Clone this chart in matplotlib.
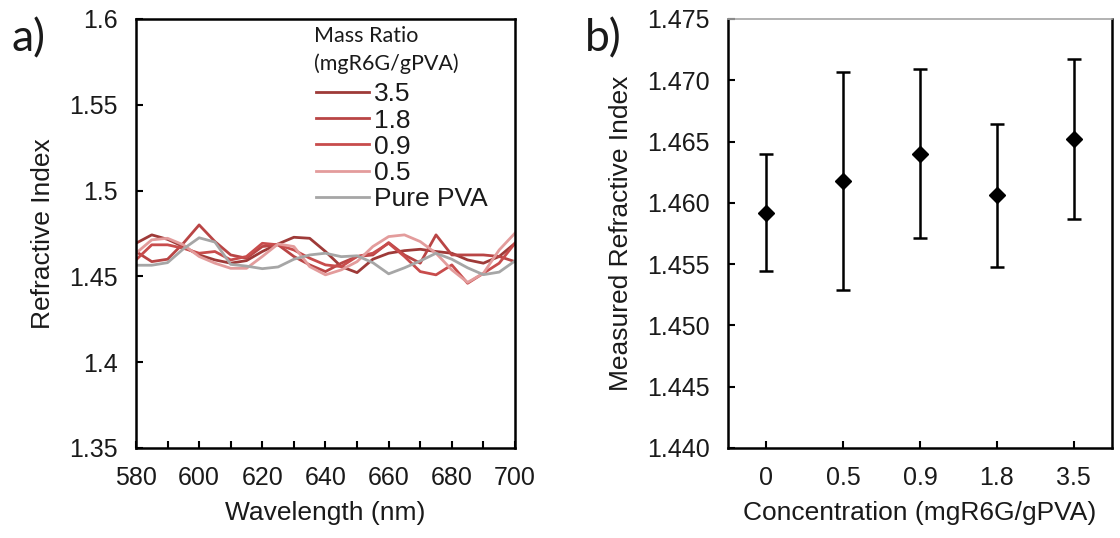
import matplotlib.pyplot as plt
from matplotlib.ticker import FuncFormatter

wavelength = list(range(580, 701, 5))

ri_35 = [1.4693, 1.4742, 1.4716, 1.4674, 1.4625, 1.4596, 1.4577, 1.4592, 1.4645, 1.4689,
         1.4728, 1.4722, 1.4645, 1.4557, 1.4522, 1.4600, 1.4635, 1.4650, 1.4658, 1.4645,
         1.4635, 1.4596, 1.4577, 1.4616, 1.4693]
ri_18 = [1.4645, 1.4586, 1.4600, 1.4693, 1.4800, 1.4703, 1.4625, 1.4606, 1.4674, 1.4684,
         1.4616, 1.4567, 1.4528, 1.4577, 1.4616, 1.4625, 1.4697, 1.4625, 1.4577, 1.4742,
         1.4625, 1.4625, 1.4625, 1.4616, 1.4586]
ri_09 = [1.4596, 1.4684, 1.4684, 1.4664, 1.4635, 1.4645, 1.4596, 1.4616, 1.4693, 1.4684,
         1.4654, 1.4606, 1.4567, 1.4557, 1.4616, 1.4635, 1.4693, 1.4616, 1.4528, 1.4509,
         1.4567, 1.4460, 1.4518, 1.4577, 1.4693]
ri_05 = [1.4635, 1.4713, 1.4722, 1.4684, 1.4616, 1.4577, 1.4547, 1.4547, 1.4616, 1.4689,
         1.4674, 1.4557, 1.4509, 1.4538, 1.4586, 1.4674, 1.4732, 1.4742, 1.4703, 1.4635,
         1.4538, 1.4465, 1.4518, 1.4654, 1.4752]
ri_pva = [1.4565, 1.4565, 1.4580, 1.4660, 1.4725, 1.4700, 1.4570, 1.4560, 1.4545, 1.4555,
          1.4600, 1.4625, 1.4635, 1.4615, 1.4620, 1.4580, 1.4515, 1.4550, 1.4590, 1.4635,
          1.4600, 1.4550, 1.4510, 1.4525, 1.4590]

series_labels = ["3.5", "1.8", "0.9", "0.5", "Pure PVA"]
series_colors = ["#9E3A38", "#B94545", "#C84C4C", "#E39C9C", "#A6A6A6"]

conc_labels = ["0", "0.5", "0.9", "1.8", "3.5"]
measured_ri = [1.4592, 1.4618, 1.4640, 1.4606, 1.4652]
measured_err = [0.0048, 0.0089, 0.0069, 0.0058, 0.0065]

plt.rcParams['font.family'] = ['Liberation Sans', 'DejaVu Sans']
txt = '#1a1a1a'
fs = 18

fig = plt.figure(figsize=(11.2, 5.38), dpi=100)
ax1 = fig.add_axes([0.1214, 0.1673, 0.3384, 0.7974])
ax2 = fig.add_axes([0.650, 0.1673, 0.3429, 0.7974])

# panel a
for vals, lab, col in zip([ri_35, ri_18, ri_09, ri_05, ri_pva], series_labels, series_colors):
    ax1.plot(wavelength, vals, color=col, lw=2, label=lab)
ax1.set_xlim(580, 700)
ax1.set_ylim(1.35, 1.6)
ax1.set_xticks(range(580, 701, 10))
ax1.set_xticklabels([str(w) if w % 20 == 0 else "" for w in range(580, 701, 10)])
ax1.set_yticks([1.35, 1.4, 1.45, 1.5, 1.55, 1.6])
ax1.yaxis.set_major_formatter(FuncFormatter(lambda v, p: "%g" % round(v, 3)))
ax1.set_xlabel("Wavelength (nm)", fontsize=19, color=txt, labelpad=8)
ax1.set_ylabel("Refractive Index", fontsize=19, color=txt, labelpad=10)

# legend title as separate text, entries below it
ax1.text(0.470, 0.927, "Mass Ratio\n(mgR6G/gPVA)", transform=ax1.transAxes,
         family='Lato', fontsize=15.5, color=txt, va='center', ha='left', linespacing=1.45)
leg = ax1.legend(loc='upper left', bbox_to_anchor=(0.475, 0.852), frameon=False,
                 borderaxespad=0, borderpad=0, handlelength=2.0, handletextpad=0.2,
                 labelspacing=0.08, fontsize=19)
for t in leg.get_texts():
    t.set_color(txt)

# panel b
xpos = list(range(len(conc_labels)))
ax2.errorbar(xpos, measured_ri, yerr=measured_err, fmt='D', color='black', ms=8.5,
             elinewidth=1.8, capsize=5, capthick=1.8)
ax2.set_xlim(-0.5, 4.5)
ax2.set_ylim(1.440, 1.475)
ax2.set_xticks(xpos)
ax2.set_xticklabels(conc_labels)
ax2.set_yticks([1.440 + 0.005 * i for i in range(8)])
ax2.yaxis.set_major_formatter(FuncFormatter(lambda v, p: "%.3f" % v))
ax2.set_xlabel("Concentration (mgR6G/gPVA)", fontsize=19, color=txt, labelpad=8)
ax2.set_ylabel("Measured Refractive Index", fontsize=19, color=txt, labelpad=10)

for ax in (ax1, ax2):
    ax.tick_params(direction='in', length=5, width=1.5, pad=13, labelsize=fs, labelcolor=txt)
    for s in ax.spines.values():
        s.set_linewidth(1.8)
        s.set_color('black')
ax2.spines['top'].set_color('#A6A6A6')
ax2.spines['top'].set_linewidth(1.2)

fig.text(0.010, 0.905, "a)", fontsize=32, family='Lato', color=txt)
fig.text(0.522, 0.905, "b)", fontsize=32, family='Lato', color=txt)

fig.savefig("out.png", dpi=100)
